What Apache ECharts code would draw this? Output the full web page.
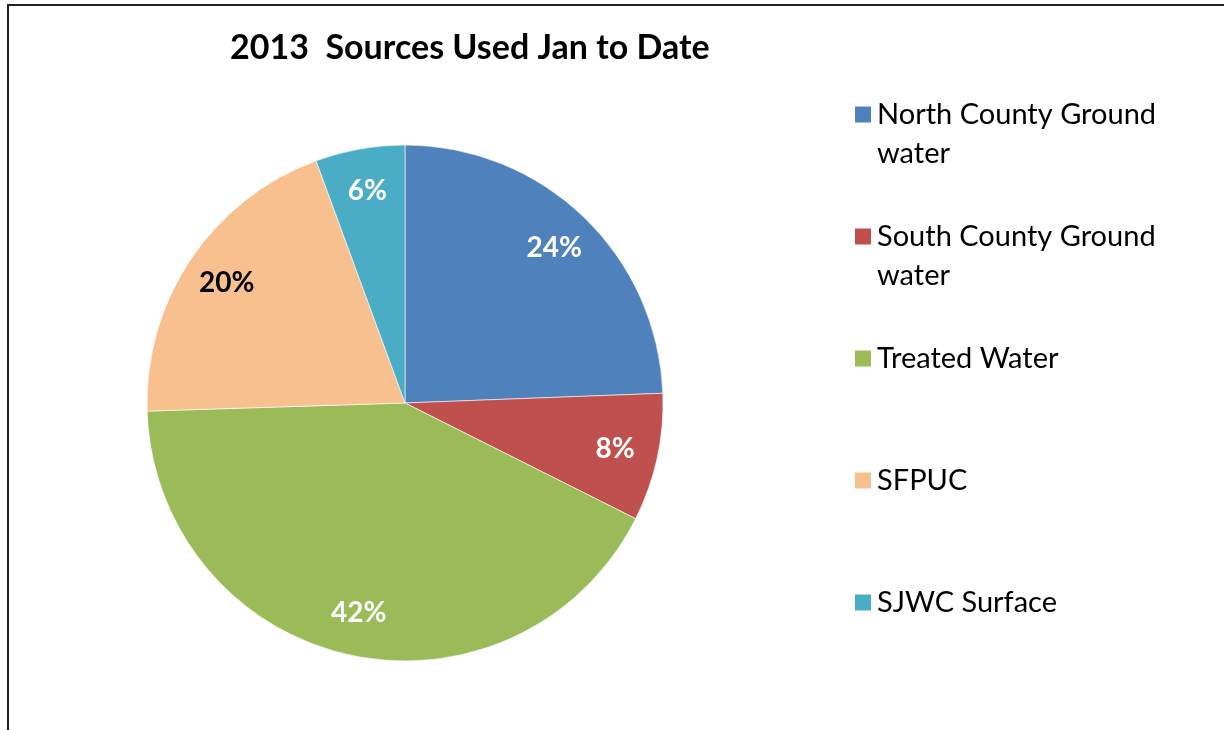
<!DOCTYPE html>
<html>
<head>
<meta charset="utf-8">
<script src="https://cdn.jsdelivr.net/npm/echarts@6/dist/echarts.min.js"></script>
<style>
html,body{margin:0;padding:0;background:#fff;}
#main{width:1224px;height:730px;}
</style>
</head>
<body>
<div id="main"></div>
<script>
const titleText = '2013  Sources Used Jan to Date';
const categories = ['North County Ground water', 'South County Ground water', 'Treated Water', 'SFPUC', 'SJWC Surface'];
const values = [24.4, 8.0, 42.1, 19.9, 5.6];

const palette = ['#4F81BD', '#C0504D', '#9BBB59', '#F9C08F', '#4BACC6'];
const FONT = 'Lato';

const chart = echarts.init(document.getElementById('main'), null, {renderer: 'canvas'});

// Legend text: wrap "... Ground water" onto two lines; pad every item to three
// lines so the swatch lines up with the first text line and item pitch is even.
function legendLabel(n) {
  if (n.indexOf(' water') >= 0) {
    return ' \n' + n.replace(' water', '\nwater');
  }
  return ' \n' + n + '\n ';
}

const option = {
  animation: false,
  color: palette,
  graphic: [{
    type: 'rect',
    shape: { x: 8, y: 5, width: 1400, height: 900 },
    style: { fill: 'none', stroke: '#222', lineWidth: 2 },
    silent: true
  }],
  title: {
    text: titleText,
    left: 230,
    top: 31,
    padding: 0,
    textStyle: { fontFamily: FONT, fontWeight: 'bold', fontSize: 34, color: '#000' }
  },
  legend: {
    orient: 'vertical',
    left: 853,
    top: 56,
    padding: 0,
    itemGap: 5,
    itemWidth: 18,
    itemHeight: 18,
    icon: 'rect',
    data: categories,
    formatter: legendLabel,
    textStyle: { fontFamily: FONT, fontSize: 29, color: '#000', lineHeight: 39 }
  },
  series: [
    {
      type: 'pie',
      center: [405, 403],
      radius: [0, 258],
      startAngle: 90,
      clockwise: true,
      silent: true,
      label: { show: false },
      labelLine: { show: false },
      itemStyle: { borderColor: '#fff', borderWidth: 0.6 },
      emphasis: { disabled: true },
      data: categories.map((n, i) => ({ name: n, value: values[i] }))
    },
    {
      type: 'pie',
      center: [405, 403],
      radius: [166, 258],
      startAngle: 90,
      clockwise: true,
      silent: true,
      percentPrecision: 0,
      itemStyle: { color: 'rgba(0,0,0,0)', borderWidth: 0 },
      labelLine: { show: false },
      emphasis: { disabled: true },
      label: {
        show: true,
        position: 'inside',
        formatter: '{d}%',
        fontFamily: FONT,
        fontWeight: 'bold',
        fontSize: 28
      },
      data: categories.map((n, i) => ({
        name: n,
        value: values[i],
        label: { color: n === 'SFPUC' ? '#000' : '#fff' }
      }))
    }
  ]
};
chart.setOption(option);
</script>
</body>
</html>
